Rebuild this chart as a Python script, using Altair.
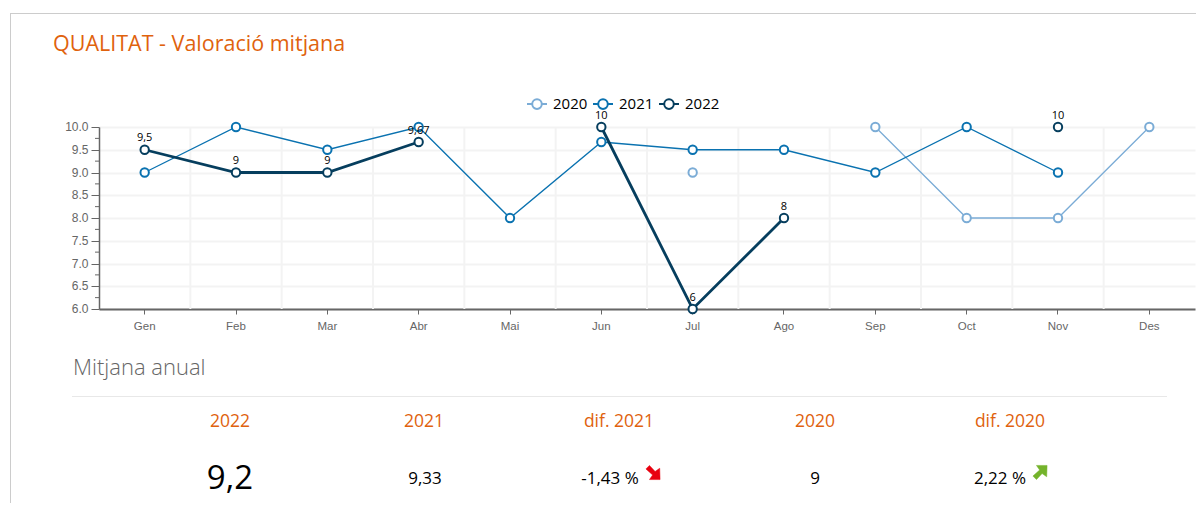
import altair as alt
import pandas as pd

months = ["Gen", "Feb", "Mar", "Abr", "Mai", "Jun", "Jul", "Ago", "Sep", "Oct", "Nov", "Des"]
v2020 = [None, None, None, None, None, None, 9, None, 10, 8, 8, 10]
v2021 = [9, 10, 9.5, 10, 8, 9.67, 9.5, 9.5, 9, 10, 9, None]
v2022 = [9.5, 9, 9, 9.67, None, 10, 6, 8, None, None, 10, None]
years = ["2020", "2021", "2022"]
colors = ["#7bacd6", "#0a72b0", "#063e5e"]
widths = [1.3, 1.3, 2.8]
y_ticks = [6, 6.5, 7, 7.5, 8, 8.5, 9, 9.5, 10]
y_minor = [6.25, 6.75, 7.25, 7.75, 8.25, 8.75, 9.25, 9.75]

rows = []
for yr, vals in zip(years, [v2020, v2021, v2022]):
    for m, v in zip(months, vals):
        rows.append({"month": m, "year": yr, "value": v})
df = pd.DataFrame(rows)
df["value"] = df["value"].astype(object).where(df["value"].notna(), None)
lab = pd.DataFrame([{"month": m, "value": v, "label": f"{v:g}".replace(".", ",")}
                    for m, v in zip(months, v2022) if v is not None])

X0, Y0 = 99, 127
xs = alt.Scale(domain=months)
ys = alt.Scale(domain=[6, 10], nice=False, zero=False)
W, H = 1096, 182
ORANGE = "#e0620d"
SANS = "Open Sans"

def text(s, x, y, size, color="#000000", align="center", weight=400):
    return alt.Chart(pd.DataFrame({"t": [s]})).mark_text(
        font=SANS, fontSize=size, color=color, align=align, baseline="middle", fontWeight=weight
    ).encode(x=alt.value(x - X0), y=alt.value(y - Y0), text="t:N")

def hline(x1, x2, y, color):
    return alt.Chart(pd.DataFrame({"a": [0]})).mark_rule(color=color, strokeWidth=1).encode(
        x=alt.value(x1 - X0), x2=alt.value(x2 - X0), y=alt.value(y - Y0))

def vline(x, y1, y2, color):
    return alt.Chart(pd.DataFrame({"a": [0]})).mark_rule(color=color, strokeWidth=1).encode(
        x=alt.value(x - X0), y=alt.value(y1 - Y0), y2=alt.value(y2 - Y0))

def arrow(path, color, x, y):
    return alt.Chart(pd.DataFrame({"a": [0]})).mark_point(
        shape=path, filled=True, fill=color, stroke=color, strokeWidth=0.5, size=200, opacity=1
    ).encode(x=alt.value(x - X0), y=alt.value(y - Y0))

base = alt.Chart(df)
y_axis = alt.Axis(values=y_ticks, format=".1f", title=None, grid=True, gridColor="#f3f3f3", gridWidth=2,
                  domainColor="#666666", tickColor="#666666", tickSize=8, labelColor="#666666",
                  labelFont="Liberation Sans", labelFontSize=12, labelPadding=3, domainWidth=1.5,
                  labelOffset=-0.5)
x_axis = alt.Axis(title=None, grid=False, domainColor="#666666", domainWidth=2, tickColor="#666666",
                  tickSize=5, labelColor="#666666", labelFont="Liberation Sans", labelFontSize=11.5,
                  labelAngle=0, labelPadding=6)

vgrid = alt.Chart(pd.DataFrame({"month": months[1:]})).mark_rule(color="#f3f3f3", strokeWidth=2).encode(
    x=alt.X("month:N", scale=xs, sort=months, axis=x_axis, bandPosition=0))

minor = alt.Chart(pd.DataFrame({"v": y_minor})).mark_rule(color="#666666", strokeWidth=1).encode(
    x=alt.value(-4), x2=alt.value(0), y=alt.Y("v:Q", scale=ys, axis=y_axis))

legend = alt.Legend(
    title=None, orient="none", legendX=427, legendY=-34, direction="horizontal", columns=3,
    columnPadding=1, labelFont=SANS, labelFontSize=15, labelColor="#000000", labelLimit=60,
    symbolType="M-1,0 L-0.48,0 M0.48,0 A0.48,0.48 0 1 1 -0.48,0 A0.48,0.48 0 1 1 0.48,0 M0.48,0 L1,0",
    symbolSize=400, symbolStrokeWidth=2, symbolFillColor="white", labelOffset=5,
)
stroke = alt.Stroke("year:N", scale=alt.Scale(domain=years, range=colors), legend=legend)
enc_x = alt.X("month:N", scale=xs, sort=months, axis=x_axis)
enc_y = alt.Y("value:Q", scale=ys, axis=y_axis)

lines = [
    base.transform_filter(alt.datum.year == yr).mark_line(strokeWidth=w).encode(x=enc_x, y=enc_y, stroke=stroke)
    for yr, w in zip(years, widths)
]
points = base.mark_point(filled=False, fill="white", fillOpacity=1, opacity=1, size=70, strokeWidth=2).encode(
    x=enc_x, y=enc_y, stroke=stroke,
)
labels = alt.Chart(lab).mark_text(font=SANS, fontSize=11, color="#000000", dy=-11.5).encode(
    x=enc_x, y=enc_y, text="label:N",
)

DOWN = "M-1,-0.5 L-0.5,-1 L0.3,-0.15 L0.95,-0.6 L1,1 L-0.5,1 L-0.05,0.35 Z"
UP = "M-1,0.5 L-0.5,1 L0.3,0.15 L0.95,0.6 L1,-1 L-0.5,-1 L-0.05,-0.35 Z"

chart = alt.layer(
    vgrid, minor, *lines, points, labels,
    vline(10.5, 13, 511, "#cccccc"),
    hline(11, 1204, 13.5, "#cccccc"),
    text("QUALITAT - Valoració mitjana", 53, 45, 21.5, ORANGE, "left"),
    text("Mitjana anual", 73, 368, 22, "#666666", "left", 300),
    hline(72, 1167, 396.5, "#e8e8e8"),
    text("2022", 230, 422, 17.5, ORANGE),
    text("2021", 424, 422, 17.5, ORANGE),
    text("dif. 2021", 619, 422, 17.5, ORANGE),
    text("2020", 815, 422, 17.5, ORANGE),
    text("dif. 2020", 1010, 422, 17.5, ORANGE),
    text("9,2", 230, 479, 33),
    text("9,33", 425, 479, 17),
    text("-1,43 %", 610, 479, 17),
    text("9", 815, 479, 17),
    text("2,22 %", 1000, 479, 17),
    arrow(DOWN, "#e8000f", 653, 472.5),
    arrow(UP, "#74b32b", 1040, 472.5),
).properties(
    width=W, height=H,
    autosize=alt.AutoSizeParams(type="none"),
    padding={"left": X0 - 8, "top": Y0 - 8, "right": 1, "bottom": 194},
).configure_view(stroke=None)

chart.save("out.html", embed_options={"renderer": "svg", "actions": False})
